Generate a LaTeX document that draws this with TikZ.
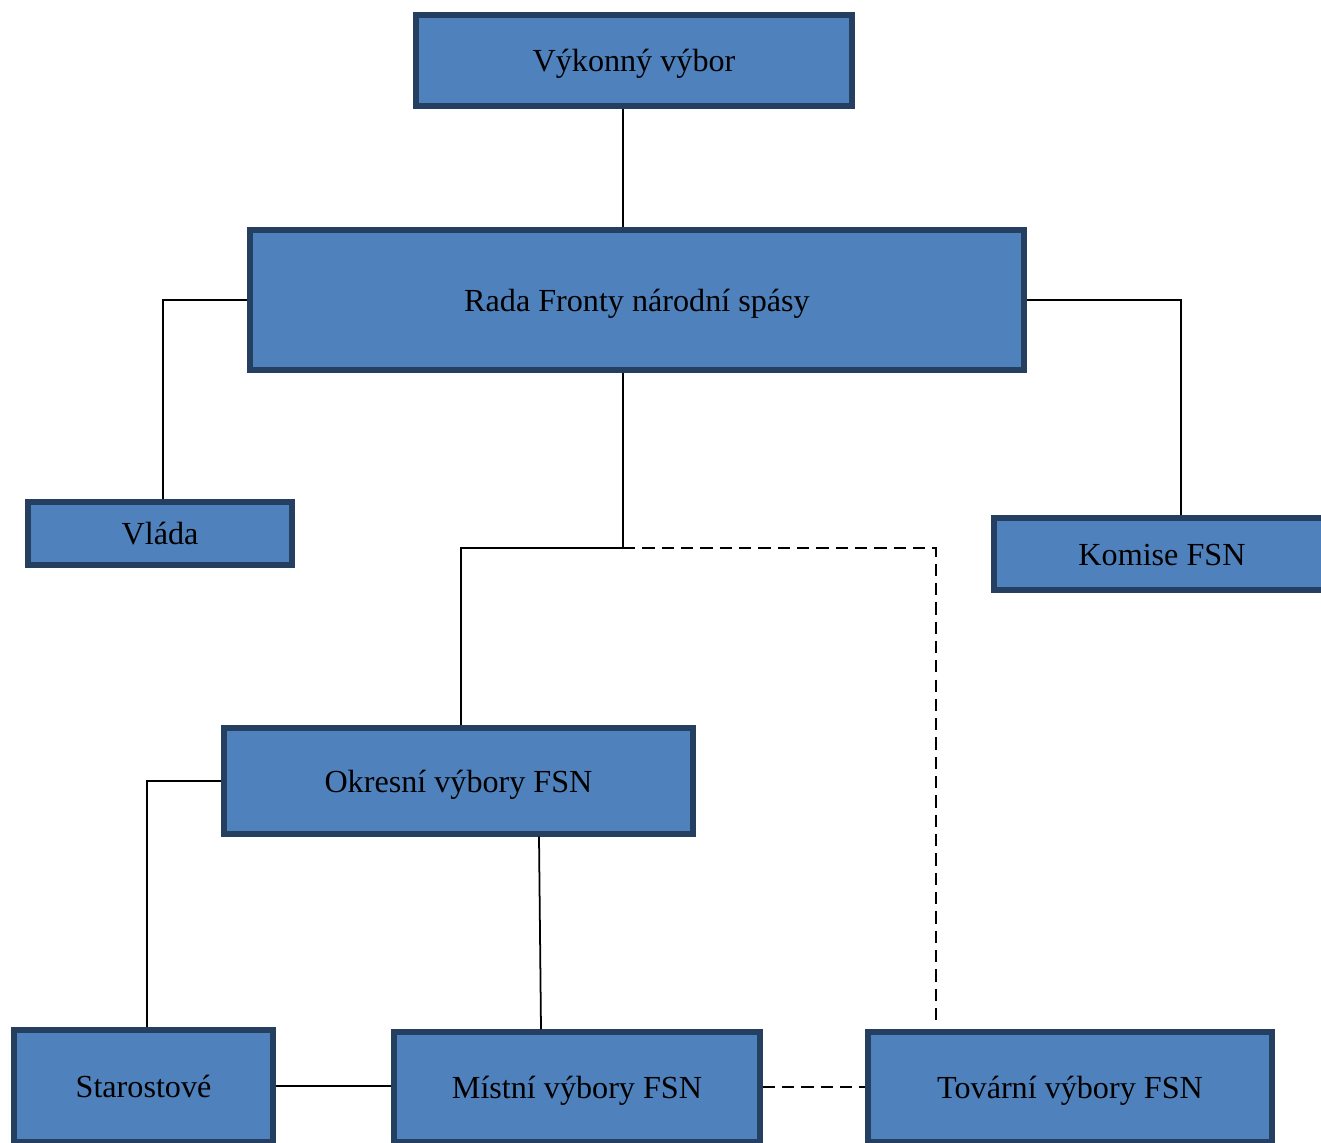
\documentclass[tikz,border=0pt]{standalone}
\usepackage{fontspec}
\setmainfont{Liberation Serif}
\usepackage{xcolor}
\usepackage{tikz}
\usetikzlibrary{
  	positioning,
  	calc
  }
\definecolor{modra}{HTML}{4F81BD}
\definecolor{okraj}{HTML}{243F60}
\tikzstyle{blok}=[rectangle,fill=modra,draw=okraj,line width=3.1pt,inner sep=0pt,text height=17pt,text depth=4pt,font=\fontsize{18.3}{22}\selectfont]
\tikzstyle{spoj}=[line width=1pt,black]
\tikzstyle{carkovane}=[spoj,dash pattern=on 7pt off 4pt]

\begin{document}
\begin{tikzpicture}[x=0.02cm,y=-0.02cm]
    \useasboundingbox (0,0) rectangle (1321,1142);
    \clip (0,0) rectangle (1321,1142);
    \node[blok,minimum width=436*0.02cm,minimum height=91*0.02cm] (vybor) at (634,60.5) {Výkonný výbor};
    \node[blok,minimum width=774*0.02cm,minimum height=140*0.02cm] (rada) at (637,300) {Rada Fronty národní spásy};
    \node[blok,minimum width=264*0.02cm,minimum height=63*0.02cm] (vlada) at (160,533.5) {Vláda};
    \node[blok,minimum width=336*0.02cm,minimum height=72*0.02cm] (komise) at (1162,554) {Komise FSN};
    \node[blok,minimum width=469*0.02cm,minimum height=106*0.02cm] (okresni) at (458.5,781) {Okresní výbory FSN};
    \node[blok,minimum width=259*0.02cm,minimum height=112*0.02cm] (starostove) at (143.5,1086) {Starostové};
    \node[blok,minimum width=366*0.02cm,minimum height=110*0.02cm] (mistni) at (577,1087) {Místní výbory FSN};
    \node[blok,minimum width=404*0.02cm,minimum height=110*0.02cm] (tovarni) at (1070,1087) {Tovární výbory FSN};
    \coordinate (uzel) at (623,548);
    % vazby
    \draw[spoj] (vybor.south -| uzel) -- (rada.north -| uzel);
    \draw[spoj] (rada.west) -| ($(vlada.north)+(3,0)$);
    \draw[spoj] (rada.east) -| ($(komise.north)+(19,0)$);
    \draw[spoj] (rada.south -| uzel) -- (uzel) -| ($(okresni.north)+(2.5,0)$);
    \draw[carkovane] (uzel) -| ($(tovarni.north)+(-134,-8)$);
    \draw[spoj] (okresni.west) -| ($(starostove.north)+(3.5,0)$);
    \draw[spoj] ($(okresni.south)+(80.5,0)$) -- ($(mistni.north)+(-36,0)$);
    \draw[spoj] (starostove.east) -- (starostove.east -| mistni.west);
    \draw[carkovane] (mistni.east) -- (mistni.east -| tovarni.west);
  \end{tikzpicture}
\end{document}
